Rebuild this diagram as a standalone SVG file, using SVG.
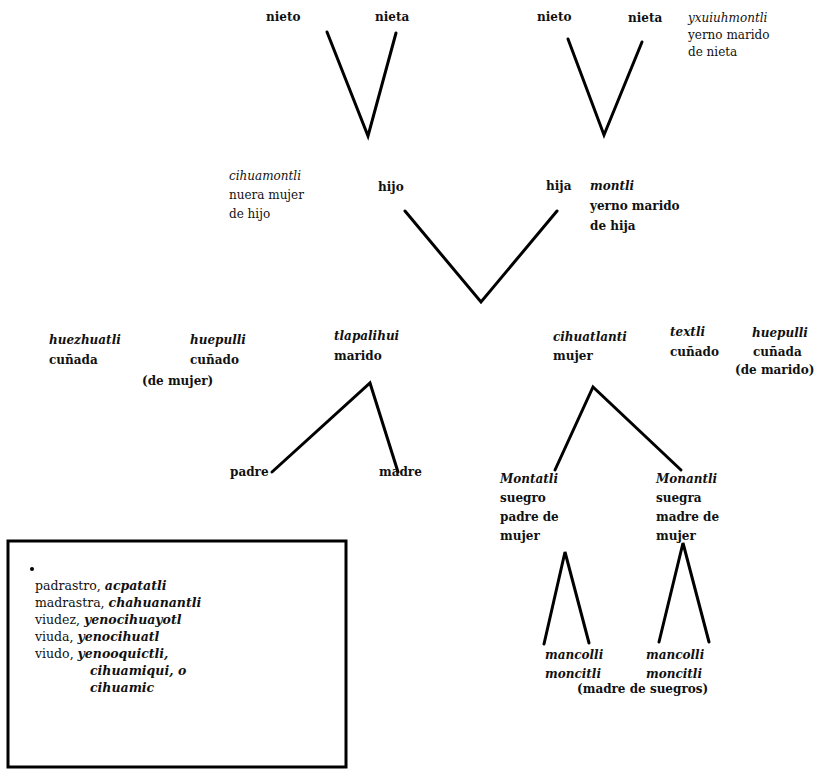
<svg xmlns="http://www.w3.org/2000/svg" width="840" height="776" viewBox="0 0 840 776">
<style>
text{font-family:"DejaVu Serif","Liberation Serif",serif;font-size:12px;font-weight:bold;fill:#111}
.i{font-style:italic}
.l{font-weight:normal}
.b{font-weight:bold}
.ln{fill:none;stroke:#000;stroke-width:3;stroke-linejoin:miter;stroke-linecap:round}
.box{fill:none;stroke:#000;stroke-width:3}
</style>
<rect width="840" height="776" fill="#fff"/>
<g id="connectors">
<polyline class="ln" points="327,32 368,136 396,33"/>
<polyline class="ln" points="568,39 604,135 642,42"/>
<polyline class="ln" points="405,211 481,302 557,211"/>
<polyline class="ln" points="272,472 370,383 398,472"/>
<polyline class="ln" points="555,470 593,387 681,470"/>
<polyline class="ln" points="544,644 565,552 589,643"/>
<polyline class="ln" points="659,642 683,543 709,642"/>
</g>
<g id="nieto1"><text x="266" y="21">nieto</text></g>
<g id="nieta1"><text x="375" y="21">nieta</text></g>
<g id="nieto2"><text x="537" y="21">nieto</text></g>
<g id="nieta2"><text x="628" y="22">nieta</text></g>
<g id="yxuiuhmontli"><text class="l" x="688" y="22"><tspan class="i">yxuiuhmontli</tspan><tspan x="688" dy="17">yerno marido</tspan><tspan x="688" dy="17">de nieta</tspan></text></g>
<g id="cihuamontli"><text class="l" x="229" y="180"><tspan class="i">cihuamontli</tspan><tspan x="229" dy="19">nuera mujer</tspan><tspan x="229" dy="19">de hijo</tspan></text></g>
<g id="hijo"><text x="378" y="191">hijo</text></g>
<g id="hija"><text x="546" y="190">hija</text></g>
<g id="montli"><text x="590" y="190"><tspan class="i">montli</tspan><tspan x="590" dy="20">yerno marido</tspan><tspan x="590" dy="20">de hija</tspan></text></g>
<g id="huezhuatli"><text x="49" y="344"><tspan class="i">huezhuatli</tspan><tspan x="49" dy="20">cuñada</tspan></text></g>
<g id="huepulli1"><text x="190" y="344"><tspan class="i">huepulli</tspan><tspan x="190" dy="20">cuñado</tspan><tspan x="142" dy="21">(de mujer)</tspan></text></g>
<g id="tlapalihui"><text x="334" y="340"><tspan class="i">tlapalihui</tspan><tspan x="334" dy="20">marido</tspan></text></g>
<g id="cihuatlanti"><text x="553" y="341"><tspan class="i">cihuatlanti</tspan><tspan x="553" dy="19">mujer</tspan></text></g>
<g id="textli"><text x="670" y="336"><tspan class="i">textli</tspan><tspan x="670" dy="20">cuñado</tspan></text></g>
<g id="huepulli2"><text x="752" y="337"><tspan class="i">huepulli</tspan><tspan x="753" dy="19">cuñada</tspan><tspan x="735" dy="18">(de marido)</tspan></text></g>
<g id="padre"><text x="230" y="476">padre</text></g>
<g id="madre"><text x="379" y="476">madre</text></g>
<g id="montatli"><text x="500" y="483"><tspan class="i">Montatli</tspan><tspan x="500" dy="19">suegro</tspan><tspan x="500" dy="19">padre de</tspan><tspan x="500" dy="19">mujer</tspan></text></g>
<g id="monantli"><text x="656" y="483"><tspan class="i">Monantli</tspan><tspan x="656" dy="19">suegra</tspan><tspan x="656" dy="19">madre de</tspan><tspan x="656" dy="19">mujer</tspan></text></g>
<g id="mancolli1"><text class="i" x="545" y="659"><tspan>mancolli</tspan><tspan x="545" dy="19">moncitli</tspan></text></g>
<g id="mancolli2"><text class="i" x="646" y="659"><tspan>mancolli</tspan><tspan x="646" dy="19">moncitli</tspan></text></g>
<g id="suegros"><text x="577" y="693">(madre de suegros)</text></g>
<g id="box">
<rect class="box" x="8" y="541" width="338" height="226"/>
<circle cx="32" cy="569" r="2"/>
<text class="l" x="35" y="590" style="font-size:12.5px"><tspan>padrastro, </tspan><tspan class="i b">acpatatli</tspan><tspan x="35" dy="17">madrastra, </tspan><tspan class="i b">chahuanantli</tspan><tspan x="35" dy="17">viudez, </tspan><tspan class="i b">yenocihuayotl</tspan><tspan x="35" dy="17">viuda, </tspan><tspan class="i b">yenocihuatl</tspan><tspan x="35" dy="17">viudo, </tspan><tspan class="i b">yenooquictli,</tspan><tspan class="i b" x="90" dy="17">cihuamiqui, o</tspan><tspan class="i b" x="90" dy="17">cihuamic</tspan></text>
</g>
</svg>
